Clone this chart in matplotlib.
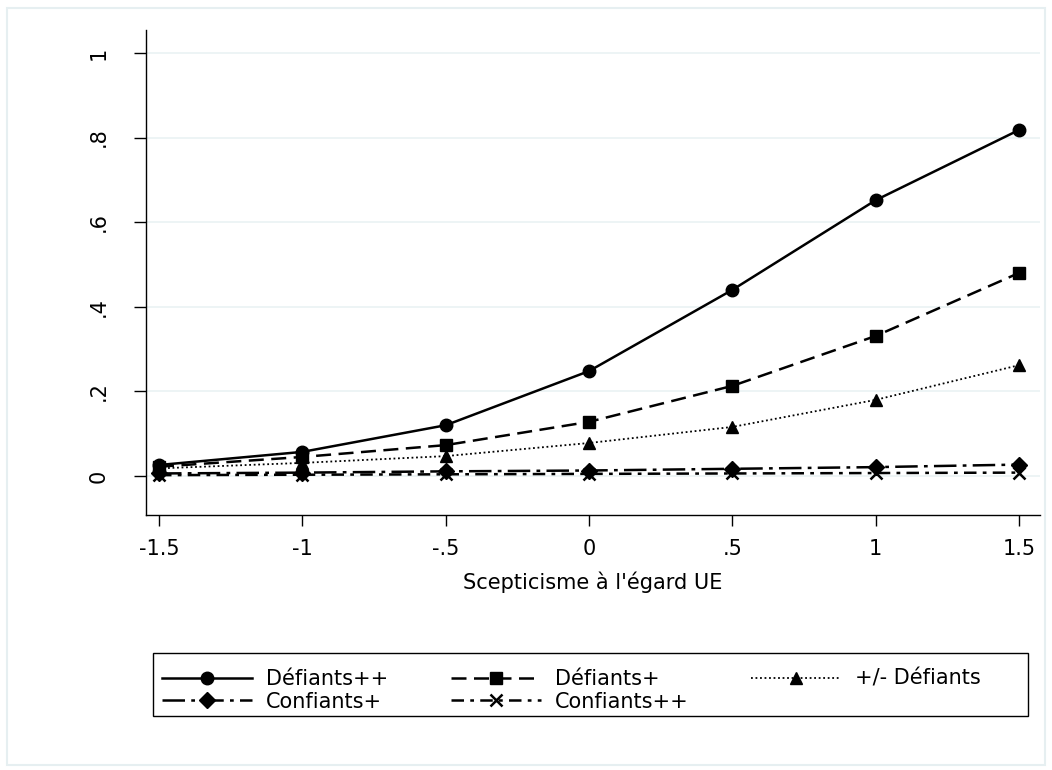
import matplotlib
matplotlib.use("Agg")
import matplotlib.pyplot as plt
from matplotlib.patches import Rectangle

plt.rcParams['font.family'] = ['DejaVu Sans']

x = [-1.5, -1, -0.5, 0, 0.5, 1, 1.5]
xticklabels = ['-1.5', '-1', '-.5', '0', '.5', '1', '1.5']
yticks = [0, 0.2, 0.4, 0.6, 0.8, 1]
yticklabels = ['0', '.2', '.4', '.6', '.8', '1']
xlabel = "Scepticisme à l'égard UE"

defiants_pp = [0.026, 0.057, 0.120, 0.248, 0.440, 0.652, 0.818]
defiants_p = [0.022, 0.045, 0.073, 0.128, 0.213, 0.331, 0.480]
pm_defiants = [0.018, 0.031, 0.047, 0.078, 0.116, 0.180, 0.262]
confiants_p = [0.006, 0.008, 0.011, 0.013, 0.017, 0.021, 0.027]
confiants_pp = [0.002, 0.003, 0.004, 0.005, 0.006, 0.007, 0.008]

FS = 15
W, H = 1052, 770

fig = plt.figure(figsize=(10.52, 7.7), dpi=100)
fig.patches.append(Rectangle((7/W, 5/H), 1038/W, 757/H, transform=fig.transFigure,
                             fill=False, edgecolor='#e6eff1', linewidth=1.5))

ax = fig.add_axes([146/W, 255/H, (1040-146)/W, (515-30)/H])
x0 = -1.5 - 13/286.7
x1 = 1.5 + 21/286.7
ax.set_xlim(x0, x1)
ax.set_ylim(-39/423, 1 + 23/423)

for yt in yticks:
    ax.axhline(yt, color='#eaf2f3', lw=1.2, zorder=0)

h1, = ax.plot(x, defiants_pp, color='black', lw=1.8, ls='-', marker='o', ms=9, label='Défiants++')
h2, = ax.plot(x, defiants_p, color='black', lw=1.8, ls=(0, (6, 3)), marker='s', ms=8.5, label='Défiants+')
h3, = ax.plot(x, pm_defiants, color='black', lw=1.3, ls=(0, (1, 1.5)), marker='^', ms=9, label='+/- Défiants')
h4, = ax.plot(x, confiants_p, color='black', lw=1.8, ls=(0, (9, 2.5, 1.5, 2.5)), marker='D', ms=8.5, label='Confiants+')
h5, = ax.plot(x, confiants_pp, color='black', lw=1.8, ls=(0, (5, 2.5, 1.5, 2.5)), marker='x', ms=9, mew=1.8, label='Confiants++')

for s in ['top', 'right']:
    ax.spines[s].set_visible(False)
ax.spines['left'].set_linewidth(1.0)
ax.spines['bottom'].set_linewidth(1.0)

ax.set_xticks(x)
ax.set_xticklabels(xticklabels, fontsize=FS)
ax.set_yticks(yticks)
ax.set_yticklabels(yticklabels, fontsize=FS, rotation=90, va='center')
ax.tick_params(axis='x', length=8, width=1, direction='out', pad=9)
ax.tick_params(axis='y', length=9, width=1, direction='out', pad=18)
ax.set_xlabel(xlabel, fontsize=FS, labelpad=9)

# legend frame drawn separately
fig.patches.append(Rectangle((153/W, (H-716)/H), (1028-153)/W, 63/H, transform=fig.transFigure,
                             fill=False, edgecolor='black', linewidth=1.0))

# matplotlib fills columns first; order so rows read like the reference
handles = [h1, h4, h2, h5, h3]
labels = [h.get_label() for h in handles]
leg = fig.legend(handles, labels, loc='upper left',
                 bbox_to_anchor=(162/W, 1 - 669/H),
                 ncol=3, fontsize=FS, frameon=False,
                 handlelength=4.3, borderaxespad=0, labelspacing=0.12,
                 handletextpad=0.7, columnspacing=3.0, borderpad=0)

fig.savefig('out.png', dpi=100, facecolor='white')
